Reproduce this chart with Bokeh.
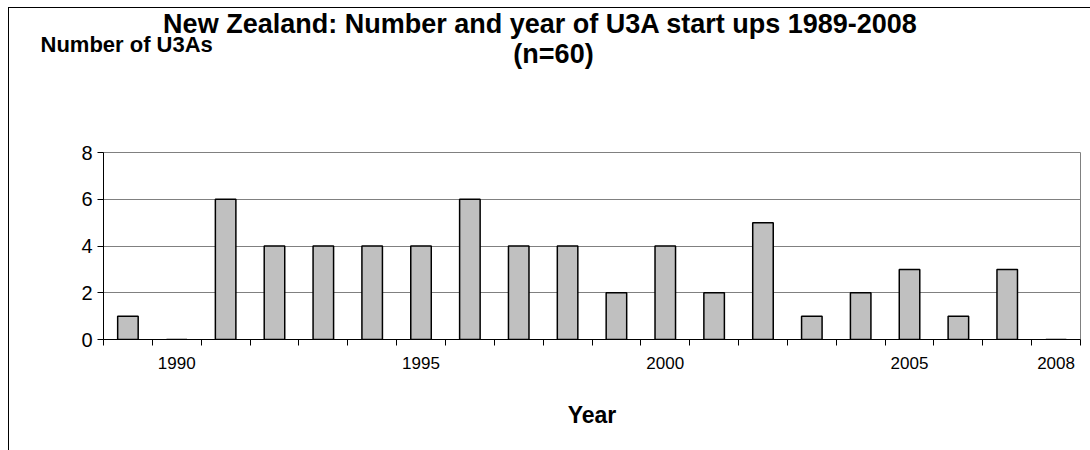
from bokeh.plotting import figure
from bokeh.layouts import column
from bokeh.models import Range1d, FixedTicker, ColumnDataSource
from bokeh.core.properties import value
from bokeh.embed import file_html
from bokeh.resources import INLINE

# U3A start ups in New Zealand per year
years = list(range(1989, 2009))
counts = [1, 0, 6, 4, 4, 4, 4, 6, 4, 4, 2, 4, 2, 5, 1, 2, 3, 1, 3, 0]

year_labels = [1990, 1995, 2000, 2005, 2008]
y_ticks = [0, 2, 4, 6, 8]

title_line1 = "New Zealand: Number and year of U3A start ups 1989-2008"
title_line2 = "(n=60)"
y_title = "Number of U3As"
x_title = "Year"

FONT = "Liberation Sans"
W = 1081
HEAD_H = 129
BORDER_L, BORDER_R = 94, 10

# ---- heading strip in canvas-pixel units; its frame covers the whole strip ----
head = figure(
    width=W, height=HEAD_H,
    x_range=Range1d(0, W), y_range=Range1d(0, HEAD_H),
    output_backend="svg", toolbar_location=None,
    x_axis_location=None, y_axis_location=None,
    min_border=0,
)
head.frame_align = False
head.outline_line_color = None
head.grid.visible = False
head.background_fill_color = "white"
head.border_fill_color = "white"

head.text(x=[531], y=[114], text=[title_line1], text_align="center",
          text_baseline="alphabetic", text_font=value(FONT),
          text_font_size="27px", text_font_style="bold", text_color="black")
head.text(x=[544], y=[84], text=[title_line2], text_align="center",
          text_baseline="alphabetic", text_font=value(FONT),
          text_font_size="27px", text_font_style="bold", text_color="black")
head.text(x=[31], y=[93], text=[y_title], text_align="left",
          text_baseline="alphabetic", text_font=value(FONT),
          text_font_size="22px", text_font_style="bold", text_color="black")

# ---- bar chart ----
src = ColumnDataSource(data=dict(year=years, count=counts))

p = figure(
    width=W, height=313,
    x_range=Range1d(years[0] - 0.5, years[-1] + 0.5),
    y_range=Range1d(0, 8),
    output_backend="svg", toolbar_location=None,
    min_border_left=BORDER_L, min_border_right=BORDER_R,
    min_border_top=15, min_border_bottom=111,
)
p.background_fill_color = "white"
p.border_fill_color = "white"
p.outline_line_color = "#808080"
p.outline_line_width = 1

p.vbar(x="year", top="count", width=0.42, source=src,
       fill_color="#C0C0C0", line_color="black", line_width=1.5)

# x axis: labels at selected years, ticks between categories
xa = p.xaxis[0]
xa.ticker = FixedTicker(ticks=year_labels,
                        minor_ticks=[y - 0.5 for y in years] + [years[-1] + 0.5])
xa.major_tick_out = 0
xa.major_tick_in = 0
xa.minor_tick_out = 6
xa.minor_tick_in = 0
xa.minor_tick_line_color = "black"
xa.axis_line_color = "black"
xa.major_label_text_font = FONT
xa.major_label_text_font_size = "17px"
xa.major_label_text_color = "black"
xa.major_label_standoff = 11
xa.axis_label = x_title
xa.axis_label_text_font = FONT
xa.axis_label_text_font_size = "23px"
xa.axis_label_text_font_style = "bold"
xa.axis_label_text_color = "black"
xa.axis_label_standoff = 30

ya = p.yaxis[0]
ya.ticker = FixedTicker(ticks=y_ticks)
ya.minor_tick_line_color = None
ya.major_tick_out = 6
ya.major_tick_in = 0
ya.major_tick_line_color = "black"
ya.axis_line_color = "black"
ya.major_label_text_font = FONT
ya.major_label_text_font_size = "20px"
ya.major_label_text_color = "black"
ya.major_label_standoff = 5

p.xgrid.grid_line_color = None
p.ygrid.grid_line_color = "#808080"
p.ygrid.grid_line_width = 1

layout = column(head, p, spacing=0)
layout.margin = (7, 0, 0, 8)
layout.styles = {"border-left": "1px solid black", "border-top": "1px solid black",
                 "background-color": "white"}

open("out.html", "w").write(file_html(layout, INLINE))
